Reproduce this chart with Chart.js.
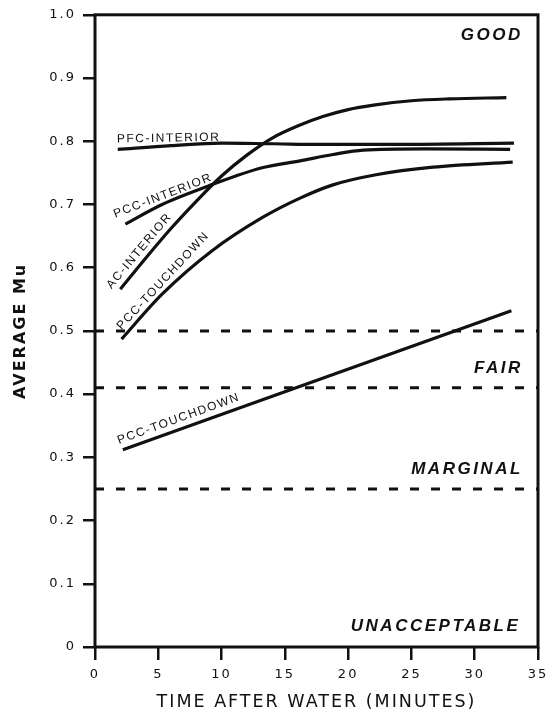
<!DOCTYPE html>
<html>
<head>
<meta charset="utf-8">
<script src="https://cdn.jsdelivr.net/npm/chart.js@4.4.1/dist/chart.umd.min.js"></script>
<style>
  body { margin: 0; background: #fff; }
  canvas { display: block; }
</style>
</head>
<body>
<canvas id="muChart" width="554" height="716"></canvas>
<script>
// values (time in minutes, average Mu)
const acIntTime = [2.0, 4, 6, 8, 10, 12, 14, 16, 18, 20, 22, 25, 28, 32.5];
const acIntMu = [0.566, 0.615, 0.662, 0.705, 0.745, 0.778, 0.805, 0.824, 0.839, 0.850, 0.857, 0.864, 0.867, 0.869];

const pccIntTime = [2.4, 5.3, 9.2, 13.2, 16.2, 18.8, 21.2, 26, 32.8];
const pccIntMu = [0.669, 0.700, 0.731, 0.758, 0.769, 0.779, 0.786, 0.788, 0.787];

const pfcIntTime = [1.8, 6, 10, 14, 18, 24, 33.1];
const pfcIntMu = [0.787, 0.793, 0.797, 0.796, 0.795, 0.795, 0.797];

const pccTdTime = [2.1, 5.3, 9.2, 13.2, 16.2, 18.8, 22.2, 26.7, 33.0];
const pccTdMu = [0.487, 0.558, 0.626, 0.679, 0.710, 0.731, 0.747, 0.759, 0.767];

const pccTd2Time = [2.2, 32.9];
const pccTd2Mu = [0.312, 0.532];

const thresholdMu = [0.5, 0.41, 0.25];

const curveLabels = [
    { text: "PFC-INTERIOR", t: 1.74, mu: 0.798, angle: -1 },
    { text: "PCC-INTERIOR", t: 1.6, mu: 0.679, angle: -21 },
    { text: "AC-INTERIOR", t: 1.3, mu: 0.566, angle: -50 },
    { text: "PCC-TOUCHDOWN", t: 2.1, mu: 0.501, angle: -47 },
    { text: "PCC-TOUCHDOWN", t: 1.9, mu: 0.321, angle: -20 }
];

const ratingLabels = [
    { text: "GOOD", t: 33.8, mu: 0.960 },
    { text: "FAIR", t: 33.8, mu: 0.434 },
    { text: "MARGINAL", t: 33.8, mu: 0.274 },
    { text: "UNACCEPTABLE", t: 33.6, mu: 0.026 }
];

function toPoints(xs, ys) {
    return xs.map((x, i) => ({ x: x, y: ys[i] }));
}

function curve(xs, ys) {
    return {
        data: toPoints(xs, ys),
        borderColor: "#111",
        borderWidth: 3.2,
        pointRadius: 0,
        cubicInterpolationMode: "monotone",
        fill: false
    };
}

const datasets = [
    curve(acIntTime, acIntMu),
    curve(pccIntTime, pccIntMu),
    curve(pfcIntTime, pfcIntMu),
    curve(pccTdTime, pccTdMu),
    curve(pccTd2Time, pccTd2Mu)
];

thresholdMu.forEach(mu => {
    datasets.push({
        data: [{ x: 0, y: mu }, { x: 35, y: mu }],
        borderColor: "#111",
        borderWidth: 3,
        borderDash: [9, 12],
        pointRadius: 0,
        fill: false
    });
});

const textPlugin = {
    id: "textPlugin",
    beforeDraw(chart) {
        chart.ctx.letterSpacing = "2px";
    },
    afterDatasetsDraw(chart) {
        const ctx = chart.ctx;
        const xs = chart.scales.x, ys = chart.scales.y;
        const area = chart.chartArea;

        // frame
        ctx.save();
        ctx.strokeStyle = "#111";
        ctx.lineWidth = 3;
        ctx.strokeRect(area.left, area.top, area.right - area.left, area.bottom - area.top);
        ctx.restore();

        ctx.save();
        ctx.fillStyle = "#111";
        ctx.font = "12px 'Liberation Sans'";
        ctx.letterSpacing = "1.5px";
        ctx.textAlign = "left";
        ctx.textBaseline = "alphabetic";
        curveLabels.forEach(l => {
            ctx.save();
            ctx.translate(xs.getPixelForValue(l.t), ys.getPixelForValue(l.mu));
            ctx.rotate(l.angle * Math.PI / 180);
            ctx.fillText(l.text, 0, 0);
            ctx.restore();
        });

        ctx.font = "italic bold 17px 'Liberation Sans'";
        ctx.letterSpacing = "2.5px";
        ctx.textAlign = "right";
        ratingLabels.forEach(l => {
            ctx.fillText(l.text, xs.getPixelForValue(l.t), ys.getPixelForValue(l.mu));
        });
        ctx.restore();
    }
};

const ctx = document.getElementById("muChart");
const chart = new Chart(ctx, {
    type: "line",
    data: { datasets: datasets },
    plugins: [textPlugin],
    options: {
        responsive: false,
        animation: false,
        devicePixelRatio: 1,
        layout: { padding: { top: 13, right: 16, left: 0, bottom: 0 } },
        plugins: {
            legend: { display: false },
            tooltip: { enabled: false }
        },
        scales: {
            x: {
                type: "linear",
                min: 0,
                max: 35,
                afterFit: s => { s.height = 69; },
                border: { display: false },
                grid: {
                    drawOnChartArea: false,
                    color: "#111",
                    lineWidth: 2.5,
                    tickLength: 13
                },
                ticks: {
                    stepSize: 5,
                    padding: 7,
                    color: "#111",
                    font: { family: "DejaVu Sans", size: 13 }
                },
                title: {
                    display: true,
                    text: "TIME AFTER WATER (MINUTES)",
                    color: "#111",
                    padding: { top: 0, bottom: 3 },
                    font: { family: "DejaVu Sans", size: 17.5 }
                }
            },
            y: {
                min: 0,
                max: 1,
                afterFit: s => { s.width = 95; },
                border: { display: false },
                grid: {
                    drawOnChartArea: false,
                    color: "#111",
                    lineWidth: 2.5,
                    tickLength: 12
                },
                ticks: {
                    stepSize: 0.1,
                    padding: 7,
                    color: "#111",
                    font: { family: "DejaVu Sans", size: 13 },
                    callback: v => v === 0 ? "0" : v.toFixed(1)
                },
                title: {
                    display: true,
                    text: "AVERAGE Mu",
                    color: "#111",
                    padding: { top: 11, bottom: 0 },
                    font: { family: "DejaVu Sans", size: 16, weight: "bold" }
                }
            }
        }
    }
});
</script>
</body>
</html>
